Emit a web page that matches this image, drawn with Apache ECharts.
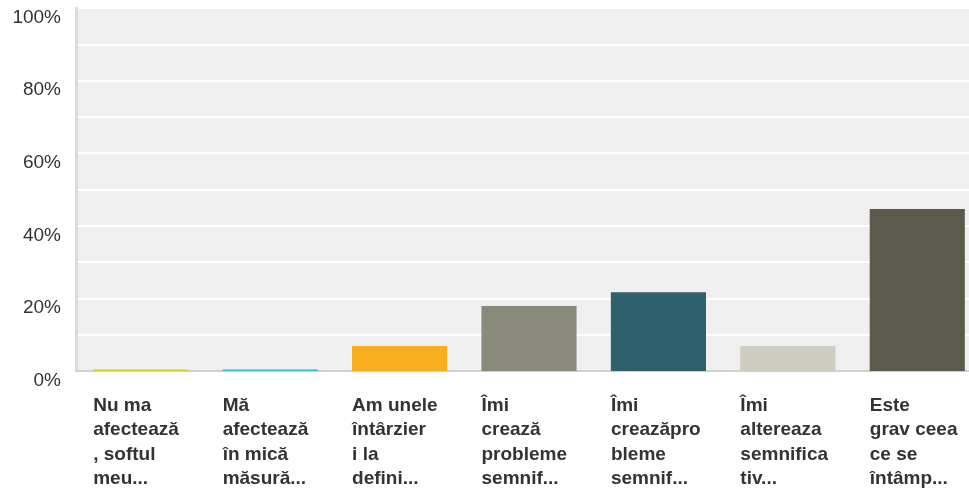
<!DOCTYPE html>
<html>
<head>
<meta charset="utf-8">
<script src="https://cdn.jsdelivr.net/npm/echarts@6/dist/echarts.min.js"></script>
<style>
  html, body { margin: 0; padding: 0; background: #fff; overflow: hidden; }
  #chart { width: 982px; height: 491px; }
</style>
</head>
<body>
<div id="chart"></div>
<script>
var categories = [
  "Nu ma\nafectează\n, softul\nmeu...",
  "Mă\nafectează\nîn mică\nmăsură...",
  "Am unele\nîntârzier\ni la\ndefini...",
  "Îmi\ncrează\nprobleme\nsemnif...",
  "Îmi\ncreazăpro\nbleme\nsemnif...",
  "Îmi\naltereaza\nsemnifica\ntiv...",
  "Este\ngrav ceea\nce se\nîntâmp..."
];
var percents = [0.4, 0.4, 6.9, 17.9, 21.7, 6.9, 44.6];
var barColors = ["#d5d12c", "#2dbfc8", "#f8af1f", "#8a8a7a", "#2f606e", "#cfcdbf", "#5c5a4b"];
var yTicks = [0, 20, 40, 60, 80, 100];

var chart = echarts.init(document.getElementById("chart"));

var option = {
  backgroundColor: "#fff",
  animation: false,
  grid: {
    left: 76,
    right: 0,
    top: 8,
    bottom: 120,
    outerBoundsMode: "none",
    containLabel: false,
    show: true,
    backgroundColor: "#efefef",
    borderWidth: 0
  },
  xAxis: {
    type: "category",
    data: categories,
    axisLine: { show: true, lineStyle: { color: "#d0d0d0", width: 2 } },
    axisTick: { show: false },
    axisLabel: {
      interval: 0,
      margin: 22,
      verticalAlign: "top",
      formatter: function (v) {
        return v.split("\n").map(function (l) { return "{a|" + l + "}"; }).join("\n");
      },
      rich: {
        a: {
          width: 95,
          align: "left",
          fontFamily: "Liberation Sans, Arial, sans-serif",
          fontWeight: "bold",
          fontSize: 19,
          lineHeight: 24.6,
          color: "#333"
        }
      }
    }
  },
  yAxis: {
    type: "value",
    min: 0,
    max: 100,
    interval: 10,
    axisLine: { show: true, lineStyle: { color: "#dcdcdc", width: 3 } },
    axisTick: { show: false },
    splitLine: { show: true, lineStyle: { color: "#fff", width: 2 } },
    axisLabel: {
      margin: 15,
      verticalAlign: "top",
      fontFamily: "Liberation Sans, Arial, sans-serif",
      fontSize: 19,
      color: "#333",
      formatter: function (v) {
        return yTicks.indexOf(v) >= 0 ? v + "%" : "";
      }
    }
  },
  series: [
    {
      type: "bar",
      barCategoryGap: "26.5%",
      data: percents.map(function (v, i) {
        return { value: v, itemStyle: { color: barColors[i] } };
      })
    }
  ]
};

chart.setOption(option);
</script>
</body>
</html>
